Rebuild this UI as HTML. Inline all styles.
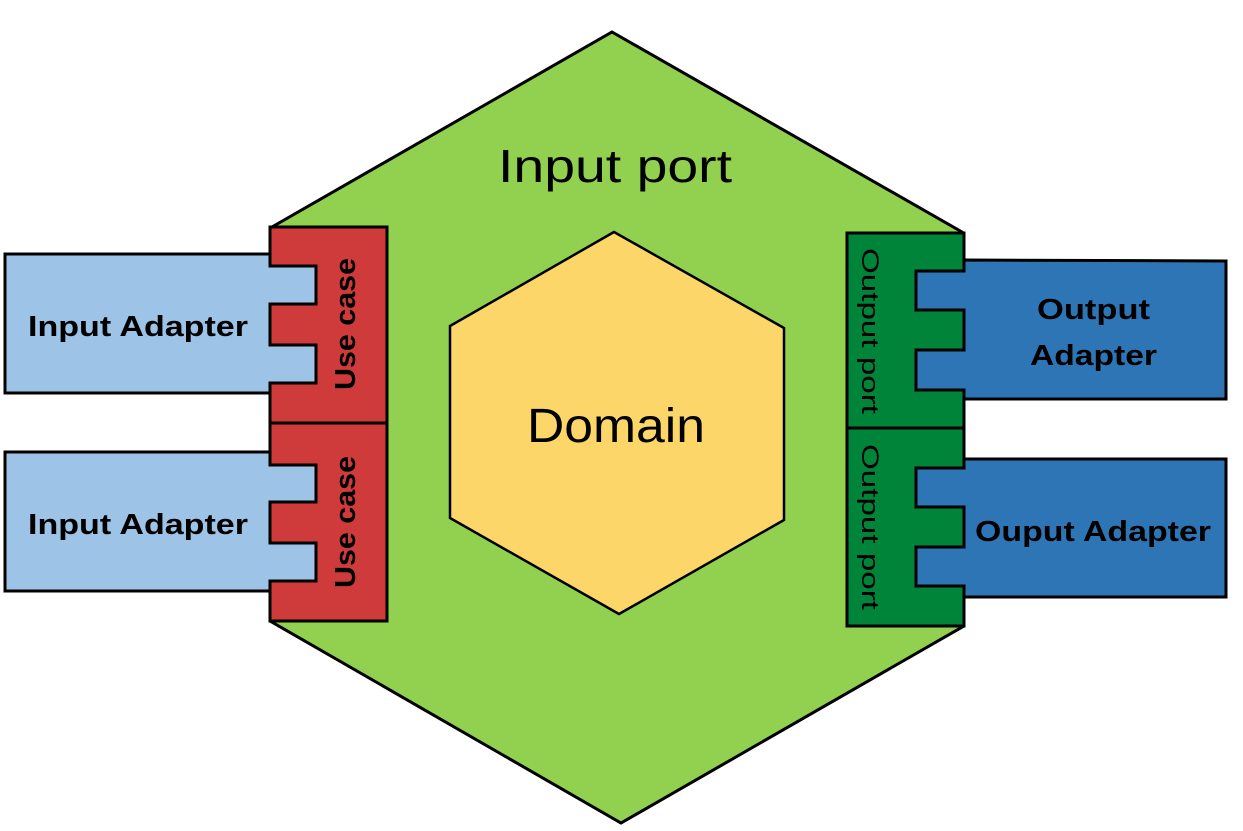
<!DOCTYPE html>
<html><head><meta charset="utf-8"><style>html,body{margin:0;padding:0;background:#fff}svg{display:block}text{font-family:"Liberation Sans",sans-serif}</style></head>
<body>
<svg width="1243" height="831" viewBox="0 0 1243 831" xmlns="http://www.w3.org/2000/svg">
<polygon points="612,32 962,232 964,626 621,823 270,621 272,227" fill="#92d050" stroke="#000" stroke-width="3"/>
<polygon points="614,232 784,328 784,520 619,614 450,518 450,326" fill="#fcd669" stroke="#000" stroke-width="2.5"/>
<text x="498" y="182" style="font-size:46px" textLength="234" lengthAdjust="spacingAndGlyphs">Input port</text>
<text x="527" y="442" style="font-size:48px" textLength="178" lengthAdjust="spacingAndGlyphs">Domain</text>

<rect x="270" y="227" width="117" height="196" fill="#cf3a3a" stroke="#000" stroke-width="3"/>
<rect x="270" y="423" width="117" height="198" fill="#cf3a3a" stroke="#000" stroke-width="3"/>
<polygon points="5,254 270,254 270,266 316,266 316,304 270,304 270,345 316,345 316,383 270,383 270,393 5,393" fill="#9dc3e6" stroke="#000" stroke-width="3"/>
<polygon points="5,452 270,452 270,465 316,465 316,502 270,502 270,543 316,543 316,581 270,581 270,591 5,591" fill="#9dc3e6" stroke="#000" stroke-width="3"/>
<text x="28" y="336" style="font-size:29px;font-weight:bold" textLength="220" lengthAdjust="spacingAndGlyphs">Input Adapter</text>
<text x="28" y="534" style="font-size:29px;font-weight:bold" textLength="220" lengthAdjust="spacingAndGlyphs">Input Adapter</text>
<text transform="translate(355,390) rotate(-90)" style="font-size:29px;font-weight:bold" textLength="132" lengthAdjust="spacingAndGlyphs">Use case</text>
<text transform="translate(355,588) rotate(-90)" style="font-size:29px;font-weight:bold" textLength="132" lengthAdjust="spacingAndGlyphs">Use case</text>

<rect x="847" y="233" width="117" height="195" fill="#00843a" stroke="#000" stroke-width="3"/>
<rect x="847" y="428" width="117" height="198" fill="#00843a" stroke="#000" stroke-width="3"/>
<polygon points="1226,261 964,260 964,271 916,271 916,310 964,310 964,350 916,350 916,390 964,390 964,399 1226,399" fill="#2e75b6" stroke="#000" stroke-width="3"/>
<polygon points="1226,459 964,459 964,468 916,468 916,507 964,507 964,547 916,547 916,586 964,586 964,597 1226,597" fill="#2e75b6" stroke="#000" stroke-width="3"/>
<text x="1037" y="319" style="font-size:29px;font-weight:bold" textLength="113" lengthAdjust="spacingAndGlyphs">Output</text>
<text x="1030" y="365" style="font-size:29px;font-weight:bold" textLength="127" lengthAdjust="spacingAndGlyphs">Adapter</text>
<text x="975" y="541" style="font-size:29px;font-weight:bold" textLength="236" lengthAdjust="spacingAndGlyphs">Ouput Adapter</text>
<text transform="translate(862,248) rotate(90)" style="font-size:24px" textLength="166" lengthAdjust="spacingAndGlyphs">Output port</text>
<text transform="translate(862,444) rotate(90)" style="font-size:24px" textLength="166" lengthAdjust="spacingAndGlyphs">Output port</text>
</svg>
</body></html>
